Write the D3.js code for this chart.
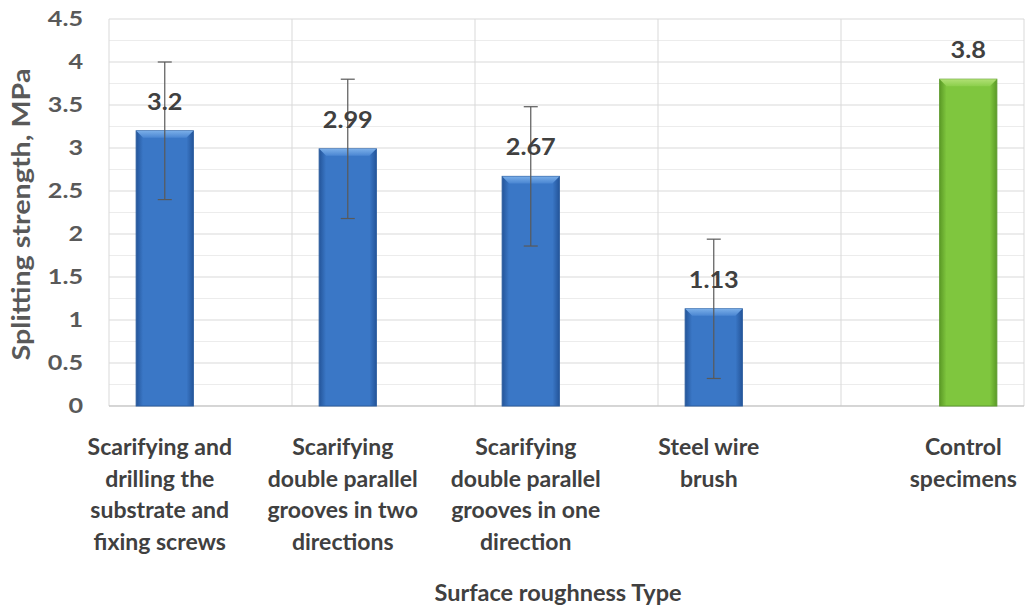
<!DOCTYPE html>
<html>
<head>
<meta charset="utf-8">
<script src="https://cdn.jsdelivr.net/npm/d3@7"></script>
<style>
html,body{margin:0;padding:0;background:#fff;}
svg{display:block;font-family:Lato,"Noto Sans",sans-serif;}
</style>
</head>
<body>
<svg id="chart" width="1030" height="605"></svg>
<script>
const categories = [
  "Scarifying and drilling the substrate and fixing screws",
  "Scarifying double parallel grooves in two directions",
  "Scarifying double parallel grooves in one direction",
  "Steel wire brush",
  "Control specimens"
];
const categoryLines = [
  ["Scarifying and", "drilling the", "substrate and", "fixing screws"],
  ["Scarifying", "double parallel", "grooves in two", "directions"],
  ["Scarifying", "double parallel", "grooves in one", "direction"],
  ["Steel wire", "brush"],
  ["Control", "specimens"]
];
const seriesNames = ["Roughened", "Control"];
const roughenedValues = [3.2, 2.99, 2.67, 1.13, null];
const controlValues = [null, null, null, null, 3.8];
const errorValues = [0.8, 0.81, 0.81, 0.81, null];
const valueLabels = ["3.2", "2.99", "2.67", "1.13", "3.8"];
const yTicks = [0, 0.5, 1, 1.5, 2, 2.5, 3, 3.5, 4, 4.5];
const yMinorTicks = [0.25, 0.75, 1.25, 1.75, 2.25, 2.75, 3.25, 3.75, 4.25];
const yTitle = "Splitting strength, MPa";
const xTitle = "Surface roughness Type";

const svg = d3.select("#chart");
const plot = {left: 109, right: 1024, top: 19, bottom: 406};

const x = d3.scaleBand().domain(categories).range([plot.left, plot.right]).paddingInner(0).paddingOuter(0);
const xs = d3.scaleBand().domain(seriesNames).range([0, x.bandwidth()]).paddingInner(0.2).paddingOuter(0.38);
const y = d3.scaleLinear().domain([0, 4.5]).range([plot.bottom, plot.top]);

// gradients
const defs = svg.append("defs");
function grad(id, edge, mid) {
  const g = defs.append("linearGradient").attr("id", id).attr("x1", "0").attr("x2", "1").attr("y1", "0").attr("y2", "0");
  g.append("stop").attr("offset", "0").attr("stop-color", edge);
  g.append("stop").attr("offset", "0.12").attr("stop-color", mid);
  g.append("stop").attr("offset", "0.88").attr("stop-color", mid);
  g.append("stop").attr("offset", "1").attr("stop-color", edge);
}
grad("gBlue", "#24559a", "#3a77c6");
grad("gGreen", "#5b9a26", "#7fc63e");
function vgrad(id, c1, c2) {
  const g = defs.append("linearGradient").attr("id", id).attr("x1", "0").attr("x2", "0").attr("y1", "0").attr("y2", "1");
  g.append("stop").attr("offset", "0").attr("stop-color", c1);
  g.append("stop").attr("offset", "1").attr("stop-color", c2);
}
vgrad("tBlue", "#7aaee8", "#4a86d2");
vgrad("tGreen", "#b0e074", "#8ccf4c");

// gridlines
const grid = svg.append("g");
grid.selectAll("line.minor").data(yMinorTicks).join("line")
  .attr("x1", plot.left).attr("x2", plot.right)
  .attr("y1", d => y(d)).attr("y2", d => y(d))
  .attr("stroke", "#ececec").attr("stroke-width", 1);
grid.selectAll("line.major").data(yTicks).join("line")
  .attr("x1", plot.left).attr("x2", plot.right)
  .attr("y1", d => y(d)).attr("y2", d => y(d))
  .attr("stroke", "#d9d9d9").attr("stroke-width", 1);
grid.selectAll("line.v").data(categories.concat(["__end"])).join("line")
  .attr("x1", (d, i) => i < categories.length ? x(d) : plot.right)
  .attr("x2", (d, i) => i < categories.length ? x(d) : plot.right)
  .attr("y1", plot.top).attr("y2", plot.bottom)
  .attr("stroke", "#d9d9d9").attr("stroke-width", 1);

// axis line
svg.append("line").attr("x1", plot.left).attr("x2", plot.right)
  .attr("y1", y(0)).attr("y2", y(0)).attr("stroke", "#bfbfbf");

// y tick labels via axis
const yAxis = svg.append("g").attr("transform", `translate(${plot.left - 26},0)`)
  .call(d3.axisLeft(y).tickValues(yTicks).tickSize(0).tickPadding(0).tickFormat(d3.format("")));
yAxis.select(".domain").remove();
yAxis.selectAll("text").attr("font-size", 21).attr("font-weight", "bold")
  .attr("fill", "#595959").attr("font-family", "Lato, sans-serif")
  .attr("transform", "scale(1.2,1)");

// bars
const barData = [];
categories.forEach((c, i) => {
  if (roughenedValues[i] != null) barData.push({c, s: seriesNames[0], v: roughenedValues[i], e: errorValues[i], lab: valueLabels[i], fill: "gBlue", top: "tBlue", stroke: "#2a5c9e"});
  if (controlValues[i] != null) barData.push({c, s: seriesNames[1], v: controlValues[i], e: errorValues[i], lab: valueLabels[i], fill: "gGreen", top: "tGreen", stroke: "#5d9a2c"});
});
const bw = xs.bandwidth();
const bars = svg.append("g").selectAll("g").data(barData).join("g");
bars.append("rect")
  .attr("x", d => x(d.c) + xs(d.s)).attr("y", d => y(d.v))
  .attr("width", bw).attr("height", d => y(0) - y(d.v))
  .attr("fill", d => `url(#${d.fill})`).attr("stroke", d => d.stroke).attr("stroke-width", 1);
// bevel top
bars.append("path")
  .attr("d", d => {
    const x0 = x(d.c) + xs(d.s), y0 = y(d.v), b = 7;
    return `M${x0},${y0}L${x0 + bw},${y0}L${x0 + bw - b},${y0 + b}L${x0 + b},${y0 + b}Z`;
  })
  .attr("fill", d => `url(#${d.top})`);

// error bars
const eb = svg.append("g").selectAll("g").data(barData.filter(d => d.e != null)).join("g")
  .attr("stroke", "#595959").attr("stroke-width", 1.2);
eb.append("line")
  .attr("x1", d => x(d.c) + xs(d.s) + bw / 2).attr("x2", d => x(d.c) + xs(d.s) + bw / 2)
  .attr("y1", d => y(d.v + d.e)).attr("y2", d => y(d.v - d.e));
eb.append("line")
  .attr("x1", d => x(d.c) + xs(d.s) + bw / 2 - 7).attr("x2", d => x(d.c) + xs(d.s) + bw / 2 + 7)
  .attr("y1", d => y(d.v + d.e)).attr("y2", d => y(d.v + d.e));
eb.append("line")
  .attr("x1", d => x(d.c) + xs(d.s) + bw / 2 - 7).attr("x2", d => x(d.c) + xs(d.s) + bw / 2 + 7)
  .attr("y1", d => y(d.v - d.e)).attr("y2", d => y(d.v - d.e));

// value labels
svg.append("g").selectAll("text").data(barData).join("text")
  .attr("transform", d => `translate(${x(d.c) + xs(d.s) + bw / 2},${y(d.v) - 21}) scale(1.15,1)`)
  .attr("text-anchor", "middle")
  .attr("font-size", 22).attr("font-weight", "bold").attr("fill", "#404040")
  .text(d => d.lab);

// category labels
const catG = svg.append("g").selectAll("text").data(categories).join("text")
  .attr("text-anchor", "middle")
  .attr("font-size", 23).attr("font-weight", "bold").attr("fill", "#404040")
  .attr("transform", (d, i) => {
    const s = roughenedValues[i] != null ? seriesNames[0] : seriesNames[1];
    return `translate(${x(d) + xs(s) + bw / 2 - 5},455)`;
  });
catG.each(function(d, i) {
  d3.select(this).selectAll("tspan").data(categoryLines[i]).join("tspan")
    .attr("x", 0).attr("y", (t, j) => j * 31.7).text(t => t);
});

// axis titles
svg.append("text")
  .attr("transform", `translate(30,${(plot.top + plot.bottom) / 2 + 2}) rotate(-90)`)
  .attr("text-anchor", "middle")
  .attr("font-size", 25).attr("font-weight", "bold").attr("fill", "#595959")
  .attr("textLength", 292).attr("lengthAdjust", "spacingAndGlyphs")
  .text(yTitle);
svg.append("text")
  .attr("x", 558).attr("y", 601)
  .attr("text-anchor", "middle")
  .attr("font-size", 23.5).attr("font-weight", "bold").attr("fill", "#404040")
  .text(xTitle);
</script>
</body>
</html>
